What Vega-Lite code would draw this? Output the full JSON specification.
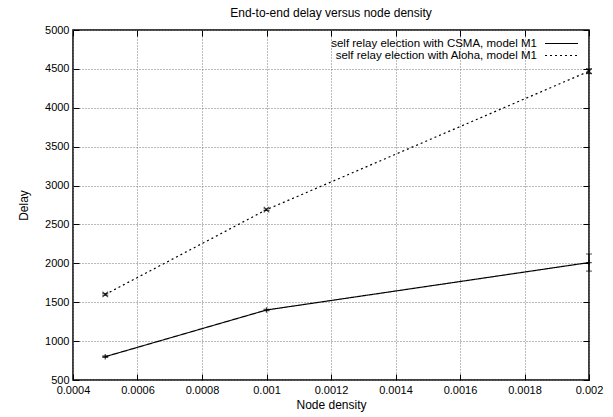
{
  "$schema": "https://vega.github.io/schema/vega-lite/v6.json",
  "width": 516,
  "height": 350,
  "autosize": {"type": "none"},
  "padding": {"left": 73, "top": 30, "right": 24, "bottom": 37},
  "background": "white",
  "title": {"text": "End-to-end delay versus node density", "fontSize": 12, "font": "Liberation Sans", "fontWeight": "normal", "offset": 4, "color": "black"},
  "config": {
    "font": "Liberation Sans",
    "view": {"stroke": "black", "strokeWidth": 1.5},
    "axis": {"labelFont": "Liberation Sans", "labelFontSize": 11, "labelColor": "black", "labelFlush": false, "labelOverlap": false, "titleFont": "Liberation Sans", "titleFontSize": 12, "titleFontWeight": "normal", "titleColor": "black", "domain": false, "tickColor": "black", "tickSize": -6, "tickWidth": 1, "gridColor": "#777", "gridDash": [1, 2], "gridWidth": 1}
  },
  "data": {"values": [
    {"series": "self relay election with CSMA, model M1", "density": 0.0005, "delay": 800, "lo": 790, "hi": 810},
    {"series": "self relay election with CSMA, model M1", "density": 0.001, "delay": 1400, "lo": 1390, "hi": 1410},
    {"series": "self relay election with CSMA, model M1", "density": 0.002, "delay": 2010, "lo": 1900, "hi": 2120},
    {"series": "self relay election with Aloha, model M1", "density": 0.0005, "delay": 1600, "lo": 1590, "hi": 1610},
    {"series": "self relay election with Aloha, model M1", "density": 0.001, "delay": 2690, "lo": 2680, "hi": 2700},
    {"series": "self relay election with Aloha, model M1", "density": 0.002, "delay": 4470, "lo": 4440, "hi": 4500}
  ]},
  "resolve": {"axis": {"x": "independent", "y": "independent"}, "legend": {"shape": "independent", "strokeDash": "independent"}},
  "layer": [
    {
      "mark": {"type": "line", "color": "black", "strokeWidth": 1.2, "clip": true},
      "encoding": {
        "x": {"field": "density", "type": "quantitative", "scale": {"domain": [0.0004, 0.002], "nice": false, "zero": false},
          "axis": {"orient": "bottom", "title": "Node density", "values": [0.0004, 0.0006, 0.0008, 0.001, 0.0012, 0.0014, 0.0016, 0.0018, 0.002], "format": "~g", "grid": true, "labelPadding": 10, "titlePadding": 4}},
        "y": {"field": "delay", "type": "quantitative", "scale": {"domain": [500, 5000], "nice": false, "zero": false},
          "axis": {"orient": "left", "title": "Delay", "format": "d", "values": [500, 1000, 1500, 2000, 2500, 3000, 3500, 4000, 4500, 5000], "grid": true, "labelPadding": 10, "titlePadding": 14}},
        "strokeDash": {"field": "series", "type": "nominal",
          "sort": ["self relay election with CSMA, model M1", "self relay election with Aloha, model M1"],
          "scale": {"domain": ["self relay election with CSMA, model M1", "self relay election with Aloha, model M1"], "range": [[1, 0], [2, 3]]},
          "legend": {"title": null, "orient": "none", "legendX": 482, "legendY": 7, "symbolType": "M-3,0L3,0", "symbolSize": 121, "symbolStrokeColor": "black", "symbolStrokeWidth": 1.2, "labelFontSize": 11.5, "labelFont": "Liberation Sans", "labelColor": "black", "labelAlign": "right", "labelOffset": -31, "labelLimit": 0, "rowPadding": -1}}
      }
    },
    {
      "mark": {"type": "errorbar", "ticks": {"color": "black", "size": 6}, "rule": {"color": "black", "strokeWidth": 1}},
      "encoding": {
        "x": {"field": "density", "type": "quantitative", "axis": null},
        "y": {"field": "lo", "type": "quantitative", "axis": null},
        "y2": {"field": "hi"}
      }
    },
    {
      "mark": {"type": "point", "filled": false, "color": "black", "strokeWidth": 1.2, "size": 30},
      "encoding": {
        "x": {"field": "density", "type": "quantitative", "axis": {"orient": "top", "labels": false, "title": null, "grid": false, "values": [0.0004, 0.0006, 0.0008, 0.001, 0.0012, 0.0014, 0.0016, 0.0018, 0.002]}},
        "y": {"field": "delay", "type": "quantitative", "axis": {"orient": "right", "labels": false, "title": null, "grid": false, "values": [500, 1000, 1500, 2000, 2500, 3000, 3500, 4000, 4500, 5000]}},
        "shape": {"field": "series", "type": "nominal",
          "scale": {"domain": ["self relay election with CSMA, model M1", "self relay election with Aloha, model M1"], "range": ["M-1,0L1,0M0,-1L0,1", "M-1,-1L1,1M-1,1L1,-1"]},
          "legend": null}
      }
    }
  ]
}
